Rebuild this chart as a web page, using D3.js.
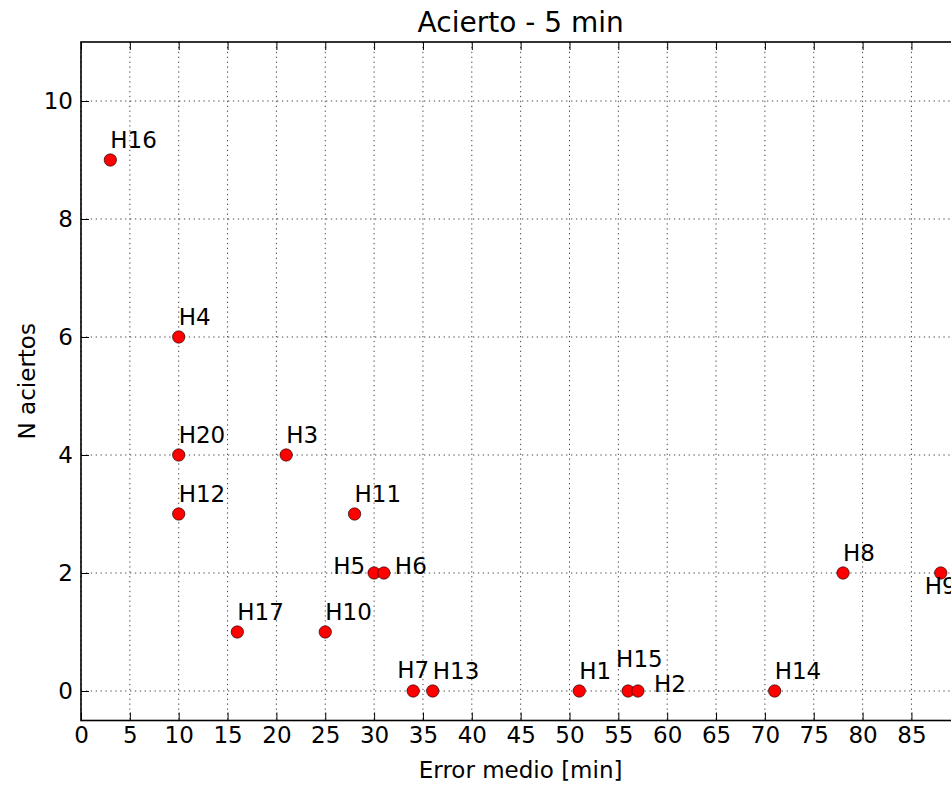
<!DOCTYPE html>
<html>
<head>
<meta charset="utf-8">
<script src="https://cdn.jsdelivr.net/npm/d3@7"></script>
<style>
  html, body { margin: 0; padding: 0; background: #fff; overflow: hidden; }
  text { font-family: "DejaVu Sans", sans-serif; fill: #000; }
</style>
</head>
<body>
<svg id="chart" width="951" height="787"></svg>
<script>
// ---- data ----
const names  = ["H16","H4","H20","H12","H3","H11","H5","H6","H17","H10","H7","H13","H1","H15","H2","H14","H8","H9"];
const errors = [3, 10, 10, 10, 21, 28, 30, 31, 16, 25, 34, 36, 51, 56, 57, 71, 78, 88];
const hits   = [9, 6, 4, 3, 4, 3, 2, 2, 1, 1, 0, 0, 0, 0, 0, 0, 2, 2];
const xTicks = [0,5,10,15,20,25,30,35,40,45,50,55,60,65,70,75,80,85];
const yTicks = [0,2,4,6,8,10];
const title = "Acierto - 5 min";
const xLabel = "Error medio [min]";
const yLabel = "N aciertos";

// ---- label placement (layout, px offsets from the marker) ----
const labelLayout = {
  H5:  {dx: -9,  dy: 1,   anchor: "end"},
  H6:  {dx: 11,  dy: 1,   anchor: "start"},
  H7:  {dx: -16, dy: -13, anchor: "start"},
  H15: {dx: -12, dy: -24, anchor: "start"},
  H2:  {dx: 16,  dy: 1,   anchor: "start"},
  H9:  {dx: -16, dy: 21,  anchor: "start"}
};
const defaultLayout = {dx: 0, dy: -12.5, anchor: "start"};

// ---- layout ----
const svg = d3.select("#chart");
const L = 81, T = 42, B = 720.5;
const x = d3.scaleLinear().domain([0, 90]).range([L, L + 90 * 9.77]);
const y = d3.scaleLinear().domain([-0.5, 11]).range([B, T]);
const R = x(90);

// clip for plot area
svg.append("defs").append("clipPath").attr("id", "plotclip")
  .append("rect").attr("x", L).attr("y", T).attr("width", R - L).attr("height", B - T);

// grid
const grid = svg.append("g");
grid.selectAll("line.gx").data(xTicks).join("line")
  .attr("x1", d => x(d)).attr("x2", d => x(d))
  .attr("y1", T).attr("y2", B)
  .attr("stroke", "#444").attr("stroke-width", 1).attr("stroke-dasharray", "1.3,3.6");
grid.selectAll("line.gy").data(yTicks).join("line")
  .attr("x1", L).attr("x2", R)
  .attr("y1", d => y(d)).attr("y2", d => y(d))
  .attr("stroke", "#444").attr("stroke-width", 1).attr("stroke-dasharray", "1.3,3.6");

// axes (ticks inward)
const fmt = d3.format("d");
const gx = svg.append("g").attr("transform", `translate(0,${B})`)
  .call(d3.axisBottom(x).tickValues(xTicks).tickFormat(fmt).tickSize(-8).tickPadding(6));
const gxTop = svg.append("g").attr("transform", `translate(0,${T})`)
  .call(d3.axisTop(x).tickValues(xTicks).tickFormat("").tickSize(-8));
const gy = svg.append("g").attr("transform", `translate(${L},0)`)
  .call(d3.axisLeft(y).tickValues(yTicks).tickFormat(fmt).tickSize(-8).tickPadding(8));
const gyR = svg.append("g").attr("transform", `translate(${R},0)`)
  .call(d3.axisRight(y).tickValues(yTicks).tickFormat("").tickSize(-8));
[gx, gxTop, gy, gyR].forEach(g => {
  g.select(".domain").remove();
  g.selectAll(".tick line").attr("stroke", "#000").attr("stroke-width", 1);
  g.selectAll(".tick text").attr("font-family", "DejaVu Sans").attr("font-size", 23).attr("fill", "#000");
});

// frame
svg.append("rect").attr("x", L).attr("y", T).attr("width", R - L).attr("height", B - T)
  .attr("fill", "none").attr("stroke", "#000").attr("stroke-width", 1.6);

// points
const pts = names.map((n, i) => ({name: n, ex: errors[i], n: hits[i]}));
svg.append("g").selectAll("circle").data(pts).join("circle")
  .attr("cx", d => x(d.ex)).attr("cy", d => y(d.n)).attr("r", 6.2)
  .attr("fill", "#ff0000").attr("stroke", "#000").attr("stroke-width", 0.6);

// point labels
svg.append("g").selectAll("text").data(pts).join("text")
  .attr("x", d => x(d.ex) + (labelLayout[d.name] || defaultLayout).dx)
  .attr("y", d => y(d.n) + (labelLayout[d.name] || defaultLayout).dy)
  .attr("text-anchor", d => (labelLayout[d.name] || defaultLayout).anchor)
  .attr("font-size", 23)
  .text(d => d.name);

// title and axis labels
const cx = (L + R) / 2;
svg.append("text").attr("x", cx).attr("y", 32).attr("text-anchor", "middle")
  .attr("font-size", 28).text(title);
svg.append("text").attr("x", cx).attr("y", 778).attr("text-anchor", "middle")
  .attr("font-size", 23).text(xLabel);
svg.append("text").attr("transform", `translate(35,${(T + B) / 2}) rotate(-90)`)
  .attr("text-anchor", "middle").attr("font-size", 23).text(yLabel);
</script>
</body>
</html>
